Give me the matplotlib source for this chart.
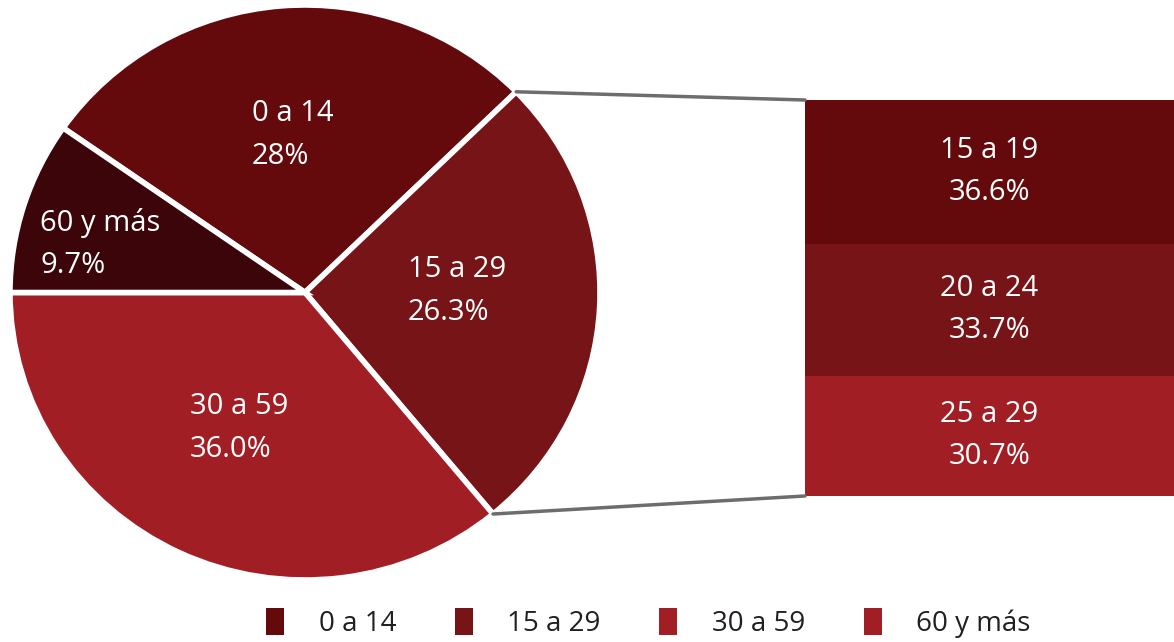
import matplotlib
matplotlib.use("Agg")
import matplotlib.pyplot as plt
from matplotlib.patches import Patch, ConnectionPatch
import numpy as np

plt.rcParams['font.family'] = ['Open Sans', 'DejaVu Sans']

# Data
pie_labels = ["0 a 14", "15 a 29", "30 a 59", "60 y más"]
pie_values = [28.0, 26.3, 36.0, 9.7]
pie_texts = ["28%", "26.3%", "36.0%", "9.7%"]
pie_colors = ["#640a0c", "#771417", "#a21e25", "#3b050a"]
legend_colors = ["#640a0c", "#771417", "#a21e25", "#a21e25"]

bar_labels = ["15 a 19", "20 a 24", "25 a 29"]
bar_values = [36.6, 33.7, 30.7]
bar_texts = ["36.6%", "33.7%", "30.7%"]
bar_colors = ["#640a0c", "#771417", "#a21e25"]

W, H = 1174, 642
fig = plt.figure(figsize=(W / 100, H / 100), dpi=100)

# Pie axes (slightly wider than tall, as in the reference)
px0, px1, py0, py1 = 10, 600, 5, 580
axp = fig.add_axes([px0 / W, (H - py1) / H, (px1 - px0) / W, (py1 - py0) / H])
# last slice ("60 y más") ends on the left horizontal
startangle = 180 - pie_values[-1] / sum(pie_values) * 360
wedges, _ = axp.pie(pie_values, colors=pie_colors, startangle=startangle,
                    counterclock=False, radius=1,
                    wedgeprops=dict(edgecolor="white", linewidth=4))
axp.set_xlim(-1, 1)
axp.set_ylim(-1, 1)
axp.set_aspect("auto")
axp.axis("off")

label_pos = {"0 a 14": (-0.18, 0.548), "15 a 29": (0.349, 0.005),
             "60 y más": (-0.898, 0.169), "30 a 59": (-0.39, -0.471)}
for lab, txt in zip(pie_labels, pie_texts):
    x, y = label_pos[lab]
    axp.text(x, y, f"{lab}\n{txt}", color="white", fontsize=21,
             ha="left", va="center", linespacing=1.6)

# Bar axes
bx0, bx1, by0, by1 = 805, 1174, 100, 496
axb = fig.add_axes([bx0 / W, (H - by1) / H, (bx1 - bx0) / W, (by1 - by0) / H])
bottom = sum(bar_values)
for lab, val, txt, col in zip(bar_labels, bar_values, bar_texts, bar_colors):
    bottom -= val
    axb.bar(0.5, val, width=1, bottom=bottom, color=col, linewidth=0)
    axb.text(0.5, bottom + val / 2, f"{lab}\n{txt}", color="white", fontsize=21,
             ha="center", va="center", linespacing=1.6)
axb.set_xlim(0, 1)
axb.set_ylim(0, sum(bar_values))
axb.axis("off")

# Connection lines from the 15 a 29 wedge edges to the bar
w = wedges[1]
t1, t2 = np.deg2rad(w.theta2), np.deg2rad(w.theta1)
p_top = (np.cos(t1), np.sin(t1))
p_bot = (np.cos(t2), np.sin(t2))
for p, yb in [(p_top, sum(bar_values)), (p_bot, 0)]:
    con = ConnectionPatch(xyA=p, coordsA=axp.transData, xyB=(0, yb),
                          coordsB=axb.transData, color="#6d6d6d", linewidth=2.5)
    fig.add_artist(con)

# Legend
handles = [Patch(facecolor=c, edgecolor="none") for c in legend_colors]
fig.legend(handles, pie_labels, loc="center left",
           bbox_to_anchor=(255 / W, 1 - 623 / H), ncol=4, frameon=False,
           fontsize=20, handlelength=0.65, handleheight=1.15, handletextpad=1.25,
           columnspacing=2.1, labelcolor="#231f20", borderaxespad=0)

fig.savefig("out.png", dpi=100, facecolor="white")
